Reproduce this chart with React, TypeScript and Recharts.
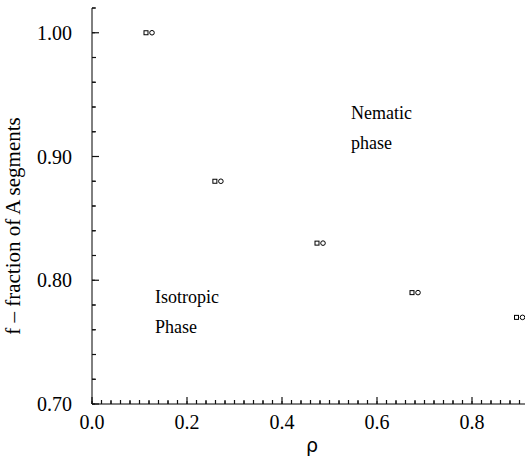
import React from 'react';
import { ScatterChart, Scatter, XAxis, YAxis } from 'recharts';

// rho (density) vs f, fraction of A segments at the I-N transition
const rhoValues = [0.12, 0.265, 0.48, 0.68, 0.9];
const fValues = [1.0, 0.88, 0.83, 0.79, 0.77];

const xTicks = Array.from({ length: 47 }, (_, i) => i * 0.02);
const yTicks = Array.from({ length: 17 }, (_, i) => 0.7 + i * 0.02);
const yMajorTicks = [0.7, 0.8, 0.9, 1.0];

const data = rhoValues.map((rho, i) => ({ rho, f: fValues[i] }));

const SERIF = 'Liberation Serif, Times New Roman, serif';
const W = 560;
const H = 462;
// plot box edges
const LEFT = 92;
const RIGHT = 529;
const TOP = 8;
const BOTTOM = 404;
const INK = '#111';

const isMajor = (v: number, step: number) => Math.abs(v / step - Math.round(v / step)) < 1e-6;

const renderBottomTick = (props: any) => {
  const { x, payload, index } = props;
  const major = isMajor(payload.value, 0.2);
  return (
    <g key={`b${index}`}>
      <line x1={x} x2={x} y1={BOTTOM} y2={BOTTOM - (major ? 7 : 4)} stroke={INK} strokeWidth={1.2} />
      {major && (
        <text x={x} y={BOTTOM + 25} textAnchor="middle" style={{ fontFamily: SERIF, fontSize: 20 }} fill="#000">
          {payload.value.toFixed(1)}
        </text>
      )}
    </g>
  );
};

const renderTopTick = (props: any) => {
  const { x, payload, index } = props;
  const major = isMajor(payload.value, 0.2);
  return (
    <g key={`t${index}`}>
      <line x1={x} x2={x} y1={TOP} y2={TOP + (major ? 7 : 4)} stroke={INK} strokeWidth={1.2} />
    </g>
  );
};

const renderLeftTick = (props: any) => {
  const { y, payload, index } = props;
  const major = isMajor(payload.value - 0.7, 0.1);
  return (
    <g key={`l${index}`}>
      <line x1={LEFT} x2={LEFT + (major ? 7 : 4)} y1={y} y2={y} stroke={INK} strokeWidth={1.2} />
      {major && (
        <text x={LEFT - 20} y={y + 7} textAnchor="end" style={{ fontFamily: SERIF, fontSize: 20 }} fill="#000">
          {payload.value.toFixed(2)}
        </text>
      )}
    </g>
  );
};

const renderRightTick = (props: any) => {
  const { y, index } = props;
  return (
    <g key={`r${index}`}>
      <line x1={RIGHT} x2={RIGHT - 7} y1={y} y2={y} stroke={INK} strokeWidth={1.2} />
    </g>
  );
};

// square + circle pair, like the gnuplot point styles
const PairMarker = (props: any) => {
  const { cx, cy } = props;
  return (
    <g>
      <rect x={cx - 5} y={cy - 2} width={4} height={4} fill="none" stroke="#000" strokeWidth={1} />
      <circle cx={cx + 3} cy={cy} r={2.3} fill="none" stroke="#000" strokeWidth={1} />
    </g>
  );
};

export default function App() {
  const textStyle = { fontFamily: SERIF, fontSize: 18 };
  return (
    <div style={{ position: 'absolute', left: 0, top: 0, width: 525, height: 462, overflow: 'hidden', background: '#fff' }}>
      <ScatterChart width={W} height={H} margin={{ top: TOP, right: W - RIGHT, bottom: 0, left: 0 }}>
        <XAxis
          xAxisId="b"
          type="number"
          dataKey="rho"
          domain={[0, 0.92]}
          ticks={xTicks}
          interval={0}
          allowDataOverflow
          height={H - BOTTOM}
          tickSize={-3}
          tickMargin={0}
          tickLine={{ stroke: '#000' }}
          axisLine={{ stroke: '#000' }}
          tick={renderBottomTick}
        />
        <XAxis
          xAxisId="t"
          orientation="top"
          type="number"
          dataKey="rho"
          domain={[0, 0.92]}
          ticks={xTicks}
          interval={0}
          allowDataOverflow
          height={0}
          tickSize={-3}
          tickMargin={0}
          tickLine={{ stroke: '#000' }}
          axisLine={{ stroke: '#000' }}
          tick={renderTopTick}
        />
        <YAxis
          yAxisId="l"
          type="number"
          dataKey="f"
          domain={[0.7, 1.02]}
          ticks={yTicks}
          interval={0}
          allowDataOverflow
          width={LEFT}
          tickSize={-3}
          tickMargin={0}
          tickLine={{ stroke: '#000' }}
          axisLine={{ stroke: '#000' }}
          tick={renderLeftTick}
        />
        <YAxis
          yAxisId="r"
          orientation="right"
          type="number"
          dataKey="f"
          domain={[0.7, 1.02]}
          ticks={yMajorTicks}
          interval={0}
          allowDataOverflow
          width={0}
          tickSize={-7}
          tickMargin={0}
          tickLine={{ stroke: '#000' }}
          axisLine={{ stroke: '#000' }}
          tick={renderRightTick}
        />
        <Scatter
          data={data}
          xAxisId="b"
          yAxisId="l"
          shape={<PairMarker />}
          isAnimationActive={false}
        />
      </ScatterChart>
      <svg width={525} height={462} style={{ position: 'absolute', left: 0, top: 0, pointerEvents: 'none' }}>
        <text x={312} y={452} textAnchor="middle" style={{ fontFamily: 'DejaVu Sans, sans-serif', fontSize: 19 }} fill="#000">
          ρ
        </text>
        <text
          transform="translate(20, 226) rotate(-90)"
          textAnchor="middle"
          style={{ fontFamily: SERIF, fontSize: 21 }}
          fill="#000"
        >
          f – fraction of A segments
        </text>
        <text x={351} y={119} style={textStyle} fill="#000">Nematic</text>
        <text x={351} y={149} style={textStyle} fill="#000">phase</text>
        <text x={155} y={303} style={textStyle} fill="#000">Isotropic</text>
        <text x={155} y={333} style={textStyle} fill="#000">Phase</text>
      </svg>
    </div>
  );
}
